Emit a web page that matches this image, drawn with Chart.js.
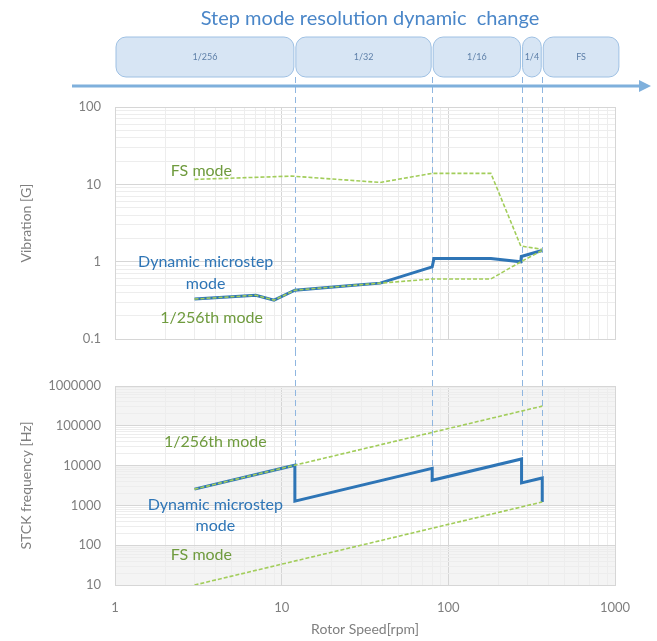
<!DOCTYPE html>
<html>
<head>
<meta charset="utf-8">
<script src="https://cdn.jsdelivr.net/npm/chart.js@4.4.1/dist/chart.umd.min.js"></script>
<style>
  html, body { margin: 0; padding: 0; background: #fff; }
  #wrap { position: relative; width: 657px; height: 641px; }
  #vib { position: absolute; left: 0; top: 0; }
  #stck { position: absolute; left: 0; top: 350px; }
</style>
</head>
<body>
<div id="wrap">
  <canvas id="vib" width="657" height="361"></canvas>
  <canvas id="stck" width="657" height="291"></canvas>
</div>
<script>
// vibration [G] against rotor speed [rpm]
const vibDynRpm = [3, 7, 9, 12, 25, 39, 80, 82, 180, 272, 274, 365];
const vibDynG   = [0.33, 0.37, 0.32, 0.43, 0.49, 0.53, 0.86, 1.1, 1.1, 1.0, 1.17, 1.4];
const vib256Rpm = [3, 7, 9, 12, 25, 39, 80, 180, 272, 365];
const vib256G   = [0.33, 0.37, 0.32, 0.43, 0.49, 0.53, 0.6, 0.6, 1.0, 1.4];
const vibFsRpm  = [3, 11.5, 39, 80, 180, 272, 365];
const vibFsG    = [11.6, 12.8, 10.6, 13.9, 13.9, 1.6, 1.45];

// STCK frequency [Hz] against rotor speed [rpm]
const stckDynRpm = [3, 12, 12, 80, 80, 275, 275, 366, 366];
const stckDynHz  = [2560, 10240, 1280, 8530, 4270, 14670, 3670, 4880, 1220];
const stck256Rpm = [3, 366];
const stck256Hz  = [2560, 312000];
const stckFsRpm  = [3, 366];
const stckFsHz   = [10, 1220];

// step mode bands along the speed axis
const modeEdges  = [1, 12, 80, 275, 366, 1070];
const modeLabels = ['1/256', '1/32', '1/16', '1/4', 'FS'];
const switchRpm  = [12, 80, 275, 366];

const FONT = 'Lato, "Open Sans", sans-serif';
const BLUE = '#2e75b6';
const GREEN = '#a2cd5a';
const GREEN_TXT = '#6f9b3e';
const AXIS_TXT = '#7f7f7f';
const GRID_MAJOR = '#d6d6d6';
const GRID_MINOR = '#ededed';
const SWITCH_LINE = '#8fb6e0';

const pts = (xs, ys) => xs.map((x, i) => ({ x: x, y: ys[i] }));
const isDecade = v => Math.abs(Math.log10(v) - Math.round(Math.log10(v))) < 1e-6;
const fmt = v => String(Number(v.toPrecision(1)));

function logTicks(min, max) {
  const out = [];
  for (let e = Math.round(Math.log10(min)); e < Math.round(Math.log10(max)); e++) {
    for (let m = 1; m < 10; m++) out.push({ value: m * Math.pow(10, e) });
  }
  out.push({ value: max });
  return out;
}

function gridColor(ctx) {
  return ctx.tick && isDecade(ctx.tick.value) ? GRID_MAJOR : GRID_MINOR;
}

function xAxis(withLabels) {
  return {
    type: 'logarithmic', min: 1, max: 1000,
    afterBuildTicks: s => { s.ticks = logTicks(1, 1000); },
    afterFit: s => { s.height = withLabels ? 56 : 1; },
    grid: { color: gridColor, drawTicks: false },
    border: { color: GRID_MAJOR },
    ticks: {
      display: withLabels, autoSkip: false, maxRotation: 0, padding: 15,
      color: AXIS_TXT, font: { family: FONT, size: 13 },
      callback: v => isDecade(v) ? fmt(v) : ''
    },
    title: {
      display: withLabels, text: 'Rotor Speed[rpm]', color: AXIS_TXT,
      font: { family: FONT, size: 14 }, padding: { top: 0, bottom: 3 }
    }
  };
}

function yAxis(min, max, label) {
  return {
    type: 'logarithmic', min: min, max: max,
    afterBuildTicks: s => { s.ticks = logTicks(min, max); },
    afterFit: s => { s.width = 115; },
    grid: { color: gridColor, drawTicks: false },
    border: { color: GRID_MAJOR },
    ticks: {
      autoSkip: false, padding: 14, color: AXIS_TXT,
      font: { family: FONT, size: 13 },
      callback: v => isDecade(v) ? fmt(v) : ''
    },
    title: {
      display: true, text: label, color: AXIS_TXT,
      font: { family: FONT, size: 14 }, padding: { top: 18, bottom: 0 }
    }
  };
}

function line(data, color, width, dashed) {
  return {
    data: data, borderColor: color, borderWidth: width,
    borderDash: dashed ? [4, 2] : [], pointRadius: 0, fill: false, tension: 0
  };
}

// text notes placed in data space
function notesPlugin(notes) {
  return {
    id: 'notes',
    afterDatasetsDraw(chart) {
      const { ctx, scales } = chart;
      ctx.save();
      ctx.textAlign = 'center';
      ctx.textBaseline = 'middle';
      ctx.font = '16px ' + FONT;
      notes.forEach(n => {
        ctx.fillStyle = n.color;
        ctx.fillText(n.text, scales.x.getPixelForValue(n.x), scales.y.getPixelForValue(n.y));
      });
      ctx.restore();
    }
  };
}

function dashedV(ctx, x, y0, y1) {
  ctx.save();
  ctx.strokeStyle = SWITCH_LINE;
  ctx.lineWidth = 1;
  ctx.setLineDash([6, 4]);
  ctx.beginPath();
  ctx.moveTo(Math.round(x) + 0.5, y0);
  ctx.lineTo(Math.round(x) + 0.5, y1);
  ctx.stroke();
  ctx.restore();
}

function roundRect(ctx, x, y, w, h, r) {
  ctx.beginPath();
  ctx.moveTo(x + r, y);
  ctx.arcTo(x + w, y, x + w, y + h, r);
  ctx.arcTo(x + w, y + h, x, y + h, r);
  ctx.arcTo(x, y + h, x, y, r);
  ctx.arcTo(x, y, x + w, y, r);
  ctx.closePath();
}

// header: title, mode boxes, speed arrow, and switch lines down through the plot
const headerPlugin = {
  id: 'header',
  beforeDatasetsDraw(chart) {
    const { ctx, scales } = chart;
    switchRpm.forEach(r => dashedV(ctx, scales.x.getPixelForValue(r), 77, 350));
  },
  afterDraw(chart) {
    const { ctx, scales } = chart;
    ctx.save();
    ctx.fillStyle = '#4a86c8';
    ctx.font = '20px ' + FONT;
    ctx.textAlign = 'center';
    ctx.textBaseline = 'middle';
    ctx.fillText('Step mode resolution dynamic  change', 370, 19);

    for (let i = 0; i < modeLabels.length; i++) {
      const x0 = scales.x.getPixelForValue(modeEdges[i]) + 1;
      const x1 = scales.x.getPixelForValue(modeEdges[i + 1]) - 1;
      roundRect(ctx, x0, 37, x1 - x0, 40, Math.min(10, (x1 - x0) / 2));
      ctx.fillStyle = '#d7e5f4';
      ctx.fill();
      ctx.strokeStyle = '#9ec0e3';
      ctx.lineWidth = 1;
      ctx.stroke();
      ctx.fillStyle = '#5d7fa8';
      ctx.font = '9px ' + FONT;
      ctx.fillText(modeLabels[i], (x0 + x1) / 2, 57);
    }

    ctx.strokeStyle = '#7fb0dc';
    ctx.lineWidth = 3;
    ctx.beginPath();
    ctx.moveTo(72, 86);
    ctx.lineTo(641, 86);
    ctx.stroke();
    ctx.fillStyle = '#7fb0dc';
    ctx.beginPath();
    ctx.moveTo(651, 86);
    ctx.lineTo(639, 80);
    ctx.lineTo(639, 92);
    ctx.closePath();
    ctx.fill();
    ctx.restore();
  }
};

// shaded decades and switch lines for the frequency plot
const stckPlugin = {
  id: 'stckDecor',
  beforeDraw(chart) {
    const { ctx, chartArea, scales } = chart;
    ctx.save();
    ctx.fillStyle = '#f4f4f4';
    [[1e5, 1e6], [1e3, 1e4], [10, 100]].forEach(b => {
      const y0 = scales.y.getPixelForValue(b[1]);
      const y1 = scales.y.getPixelForValue(b[0]);
      ctx.fillRect(chartArea.left, y0, chartArea.right - chartArea.left, y1 - y0);
    });
    ctx.restore();
  },
  beforeDatasetsDraw(chart) {
    const { ctx, scales } = chart;
    switchRpm.forEach(r => {
      let top = 0;
      stckDynRpm.forEach((x, i) => { if (x === r) top = Math.max(top, stckDynHz[i]); });
      dashedV(ctx, scales.x.getPixelForValue(r), 0, scales.y.getPixelForValue(top));
    });
  }
};

const common = {
  responsive: false,
  animation: false,
  plugins: { legend: { display: false }, tooltip: { enabled: false } }
};

new Chart(document.getElementById('vib'), {
  type: 'line',
  data: {
    datasets: [
      line(pts(vibFsRpm, vibFsG), GREEN, 1.6, true),
      line(pts(vib256Rpm, vib256G), GREEN, 1.6, true),
      line(pts(vibDynRpm, vibDynG), BLUE, 3, false)
    ]
  },
  options: Object.assign({}, common, {
    layout: { padding: { top: 107, right: 42, left: 0, bottom: 0 } },
    scales: { x: xAxis(false), y: yAxis(0.1, 100, 'Vibration [G]') }
  }),
  plugins: [headerPlugin, notesPlugin([
    { text: 'FS mode', x: 3.3, y: 14.8, color: GREEN_TXT },
    { text: 'Dynamic microstep', x: 3.5, y: 0.99, color: BLUE },
    { text: 'mode', x: 3.5, y: 0.52, color: BLUE },
    { text: '1/256th mode', x: 3.8, y: 0.19, color: GREEN_TXT }
  ])]
});

new Chart(document.getElementById('stck'), {
  type: 'line',
  data: {
    datasets: [
      line(pts(stck256Rpm, stck256Hz), GREEN, 1.6, true),
      line(pts(stckFsRpm, stckFsHz), GREEN, 1.6, true),
      line(pts(stckDynRpm, stckDynHz), BLUE, 3, false)
    ]
  },
  options: Object.assign({}, common, {
    layout: { padding: { top: 36, right: 42, left: 0, bottom: 0 } },
    scales: { x: xAxis(true), y: yAxis(10, 1000000, 'STCK frequency [Hz]') }
  }),
  plugins: [stckPlugin, notesPlugin([
    { text: '1/256th mode', x: 4.0, y: 40000, color: GREEN_TXT },
    { text: 'Dynamic microstep', x: 4.0, y: 1060, color: BLUE },
    { text: 'mode', x: 4.0, y: 300, color: BLUE },
    { text: 'FS mode', x: 3.3, y: 56, color: GREEN_TXT }
  ])]
});
</script>
</body>
</html>
